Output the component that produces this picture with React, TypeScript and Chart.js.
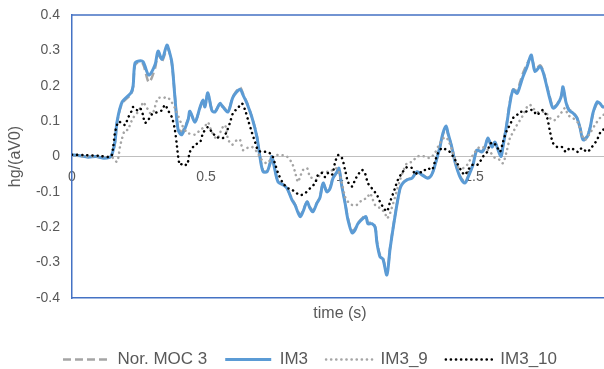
import React, { useEffect, useRef } from "react";
import { Chart, registerables } from "chart.js";

Chart.register(...registerables);

// ---- data ----
const timeA = [0, 0.03, 0.06, 0.09, 0.12, 0.145, 0.16, 0.168, 0.187, 0.22,
  0.228, 0.235, 0.25, 0.265, 0.287, 0.31, 0.321, 0.336, 0.354, 0.362,
  0.373, 0.384, 0.396, 0.41, 0.433, 0.44, 0.459, 0.478, 0.489, 0.496,
  0.507, 0.522, 0.534, 0.552, 0.563, 0.582, 0.601, 0.627, 0.638, 0.653,
  0.672, 0.69, 0.701, 0.713, 0.728, 0.739, 0.746, 0.757, 0.769, 0.787,
  0.802, 0.821, 0.832, 0.851, 0.862, 0.877, 0.888, 0.899, 0.914, 0.925,
  0.937, 0.951, 0.963, 0.974, 0.989, 0.996, 1.007, 1.019, 1.03, 1.045,
  1.056, 1.067, 1.086, 1.097, 1.104, 1.119, 1.131, 1.138, 1.149, 1.16,
  1.175, 1.187, 1.205, 1.224, 1.235, 1.25, 1.269, 1.287, 1.306, 1.325,
  1.336, 1.347, 1.362, 1.373, 1.384, 1.396, 1.403, 1.418, 1.429, 1.448,
  1.466, 1.478, 1.496, 1.511, 1.53, 1.541, 1.552, 1.567, 1.578, 1.59,
  1.601, 1.608, 1.623, 1.634, 1.646, 1.66, 1.672, 1.683, 1.698, 1.713,
  1.72, 1.728, 1.746, 1.757, 1.772, 1.784, 1.795, 1.81, 1.825, 1.832,
  1.843, 1.854, 1.869, 1.884, 1.896, 1.907, 1.922, 1.933, 1.944, 1.959,
  1.97, 1.981, 2.0];

const im3Values = [0.005, 0.002, -0.002, 0.0, -0.005, 0.0, 0.04, 0.098, 0.154, 0.18,
  0.2, 0.264, 0.27, 0.268, 0.23, 0.26, 0.298, 0.275, 0.315, 0.3,
  0.264, 0.168, 0.075, 0.062, 0.103, 0.128, 0.097, 0.14, 0.16, 0.14,
  0.18, 0.13, 0.126, 0.15, 0.14, 0.126, 0.168, 0.19, 0.174, 0.15,
  0.109, 0.055, 0.0, -0.043, -0.043, -0.019, 0.0, -0.038, -0.072, -0.08,
  -0.09, -0.123, -0.137, -0.17, -0.156, -0.128, -0.146, -0.156, -0.132, -0.117,
  -0.075, -0.1, -0.09, -0.061, -0.043, -0.033, -0.085, -0.132, -0.18, -0.216,
  -0.208, -0.19, -0.175, -0.17, -0.19, -0.19, -0.2, -0.245, -0.283, -0.29,
  -0.335, -0.26, -0.17, -0.09, -0.075, -0.066, -0.061, -0.043, -0.052, -0.061,
  -0.058, -0.043, -0.004, 0.027, 0.066, 0.086, 0.066, 0.024, -0.015, -0.058,
  -0.075, -0.058, -0.024, 0.018, 0.013, 0.027, 0.052, 0.027, 0.041, 0.018,
  0.0, 0.027, 0.095, 0.15, 0.188, 0.178, 0.2, 0.226, 0.254, 0.287,
  0.264, 0.24, 0.254, 0.24, 0.197, 0.16, 0.137, 0.146, 0.168, 0.197,
  0.154, 0.131, 0.123, 0.109, 0.08, 0.047, 0.055, 0.08, 0.123, 0.154,
  0.15, 0.14, 0.145];

const mocValues = [0.004, 0.002, -0.001, 0.0, -0.004, 0.0, 0.038, 0.095, 0.15, 0.176,
  0.196, 0.258, 0.266, 0.262, 0.21, 0.25, 0.29, 0.27, 0.305, 0.298,
  0.26, 0.17, 0.08, 0.07, 0.105, 0.125, 0.1, 0.138, 0.158, 0.142,
  0.178, 0.133, 0.128, 0.148, 0.142, 0.128, 0.17, 0.195, 0.178, 0.152,
  0.11, 0.058, 0.003, -0.04, -0.042, -0.02, -0.002, -0.036, -0.07, -0.078,
  -0.09, -0.12, -0.135, -0.165, -0.153, -0.128, -0.143, -0.153, -0.13, -0.115,
  -0.076, -0.098, -0.088, -0.06, -0.044, -0.035, -0.083, -0.13, -0.176, -0.21,
  -0.204, -0.188, -0.172, -0.168, -0.186, -0.188, -0.198, -0.24, -0.278, -0.286,
  -0.33, -0.258, -0.168, -0.09, -0.074, -0.065, -0.06, -0.044, -0.05, -0.06,
  -0.056, -0.042, -0.004, 0.028, 0.062, 0.08, 0.064, 0.025, -0.013, -0.055,
  -0.072, -0.056, -0.022, 0.02, 0.015, 0.028, 0.05, 0.03, 0.04, 0.02,
  0.004, 0.03, 0.098, 0.155, 0.19, 0.185, 0.21, 0.236, 0.262, 0.28,
  0.268, 0.245, 0.258, 0.244, 0.2, 0.165, 0.14, 0.148, 0.17, 0.19,
  0.155, 0.134, 0.125, 0.11, 0.08, 0.05, 0.058, 0.082, 0.12, 0.15,
  0.148, 0.14, 0.145];

const time9 = [0, 0.05, 0.1, 0.15, 0.168, 0.179, 0.187, 0.198, 0.209, 0.216,
  0.228, 0.243, 0.261, 0.265, 0.28, 0.291, 0.302, 0.321, 0.34, 0.354,
  0.366, 0.384, 0.41, 0.43, 0.459, 0.478, 0.496, 0.507, 0.522, 0.541,
  0.56, 0.571, 0.582, 0.597, 0.616, 0.627, 0.638, 0.653, 0.672, 0.69,
  0.709, 0.728, 0.746, 0.765, 0.784, 0.802, 0.821, 0.832, 0.843, 0.851,
  0.862, 0.877, 0.888, 0.899, 0.914, 0.925, 0.937, 0.963, 0.981, 0.993,
  1.007, 1.019, 1.03, 1.045, 1.063, 1.082, 1.101, 1.112, 1.131, 1.149,
  1.168, 1.175, 1.187, 1.224, 1.235, 1.25, 1.269, 1.287, 1.299, 1.317,
  1.336, 1.354, 1.373, 1.392, 1.403, 1.418, 1.429, 1.44, 1.459, 1.474,
  1.485, 1.504, 1.522, 1.541, 1.56, 1.578, 1.597, 1.608, 1.623, 1.634,
  1.646, 1.66, 1.672, 1.683, 1.698, 1.709, 1.72, 1.735, 1.754, 1.765,
  1.776, 1.791, 1.802, 1.813, 1.828, 1.84, 1.851, 1.869, 1.888, 1.903,
  1.914, 1.933, 1.951, 1.97, 1.981, 2.0];

const im3_9Values = [0.003, 0.0, 0.0, -0.003, -0.015, 0.027, 0.052, 0.075, 0.075, 0.089,
  0.109, 0.123, 0.146, 0.154, 0.137, 0.123, 0.123, 0.165, 0.165, 0.168,
  0.16, 0.137, 0.09, 0.068, 0.062, 0.075, 0.085, 0.097, 0.069, 0.05,
  0.08, 0.089, 0.05, 0.033, 0.047, 0.047, 0.018, 0.024, 0.027, 0.013,
  -0.01, -0.019, -0.004, 0.004, 0.004, 0.0, -0.019, -0.043, -0.072, -0.058,
  -0.038, -0.033, -0.058, -0.061, -0.066, -0.052, -0.043, -0.043, -0.033, -0.038,
  -0.075, -0.114, -0.128, -0.137, -0.137, -0.123, -0.117, -0.104, -0.137, -0.146,
  -0.16, -0.175, -0.16, -0.066, -0.043, -0.019, -0.015, 0.0, 0.001, 0.0,
  -0.004, 0.01, 0.038, 0.055, 0.047, 0.018, -0.01, -0.03, -0.033, -0.024,
  -0.01, 0.013, 0.027, 0.024, 0.013, -0.004, -0.01, -0.019, 0.018, 0.052,
  0.069, 0.089, 0.103, 0.117, 0.14, 0.146, 0.137, 0.126, 0.126, 0.126,
  0.117, 0.103, 0.103, 0.112, 0.126, 0.137, 0.117, 0.109, 0.095, 0.061,
  0.047, 0.066, 0.089, 0.109, 0.117, 0.12];

const time10 = [0, 0.05, 0.1, 0.145, 0.153, 0.16, 0.168, 0.172, 0.187, 0.198,
  0.209, 0.224, 0.228, 0.243, 0.254, 0.265, 0.272, 0.284, 0.299, 0.31,
  0.321, 0.336, 0.347, 0.358, 0.373, 0.384, 0.392, 0.396, 0.403, 0.414,
  0.429, 0.44, 0.459, 0.478, 0.489, 0.507, 0.522, 0.541, 0.563, 0.578,
  0.59, 0.601, 0.619, 0.634, 0.646, 0.657, 0.672, 0.683, 0.694, 0.709,
  0.728, 0.746, 0.757, 0.769, 0.787, 0.806, 0.813, 0.832, 0.851, 0.869,
  0.888, 0.907, 0.918, 0.933, 0.944, 0.955, 0.97, 0.981, 0.993, 1.007,
  1.019, 1.03, 1.045, 1.056, 1.067, 1.082, 1.093, 1.104, 1.119, 1.138,
  1.149, 1.16, 1.175, 1.187, 1.205, 1.216, 1.231, 1.25, 1.269, 1.28,
  1.291, 1.306, 1.317, 1.328, 1.343, 1.354, 1.366, 1.381, 1.399, 1.41,
  1.422, 1.437, 1.455, 1.466, 1.478, 1.493, 1.511, 1.522, 1.534, 1.549,
  1.56, 1.571, 1.586, 1.597, 1.608, 1.623, 1.634, 1.646, 1.66, 1.672,
  1.69, 1.709, 1.72, 1.735, 1.746, 1.757, 1.772, 1.784, 1.795, 1.81,
  1.828, 1.843, 1.858, 1.877, 1.888, 1.903, 1.922, 1.94, 1.959, 1.97,
  1.981, 2.0];

const im3_10Values = [0.005, 0.004, 0.002, 0.0, 0.024, 0.066, 0.089, 0.098, 0.095, 0.089,
  0.109, 0.131, 0.14, 0.131, 0.137, 0.117, 0.095, 0.103, 0.12, 0.123,
  0.126, 0.131, 0.146, 0.131, 0.11, 0.075, 0.027, 0.0, -0.024, -0.019,
  -0.024, 0.013, 0.033, 0.041, 0.066, 0.083, 0.069, 0.055, 0.052, 0.072,
  0.097, 0.123, 0.137, 0.15, 0.131, 0.103, 0.066, 0.041, 0.018, 0.013,
  0.013, 0.004, -0.019, -0.047, -0.075, -0.09, -0.09, -0.1, -0.109, -0.104,
  -0.09, -0.075, -0.052, -0.047, -0.058, -0.047, -0.052, -0.019, 0.004, -0.004,
  -0.038, -0.072, -0.085, -0.066, -0.052, -0.038, -0.047, -0.075, -0.09, -0.109,
  -0.128, -0.142, -0.155, -0.128, -0.09, -0.066, -0.047, -0.03, -0.033, -0.052,
  -0.043, -0.045, -0.038, -0.033, -0.038, -0.015, 0.01, 0.024, 0.018, 0.013,
  0.0, -0.019, -0.043, -0.052, -0.038, -0.024, -0.024, -0.015, 0.0, 0.013,
  0.035, 0.04, 0.027, 0.013, 0.041, 0.075, 0.089, 0.109, 0.117, 0.126,
  0.126, 0.131, 0.131, 0.117, 0.126, 0.131, 0.112, 0.069, 0.038, 0.027,
  0.027, 0.013, 0.024, 0.018, 0.013, 0.024, 0.013, 0.027, 0.047, 0.066,
  0.075, 0.085];

const seriesNames = ["Nor. MOC 3", "IM3", "IM3_9", "IM3_10"];
const yTickLabels = ["-0.4", "-0.3", "-0.2", "-0.1", "0", "0.1", "0.2", "0.3", "0.4"];
const xTickLabels = ["0", "0.5", "1", "1.5", "2"];

const pts = (t: number[], v: number[]) => t.map((x, i) => ({ x, y: v[i] }));

const TEXT = "#595959";
const AXIS_BLUE = "#4472C4";
const FONT = "'Liberation Sans', Arial, sans-serif";
const DASH = [8, 4];
const DOT = [0.1, 92 / 18 - 0.1];

const frame = {
  id: "frame",
  beforeDatasetsDraw(chart: any) {
    const { ctx, chartArea: a } = chart;
    ctx.save();
    ctx.strokeStyle = AXIS_BLUE;
    ctx.lineWidth = 1.5;
    ctx.beginPath();
    ctx.moveTo(a.left, a.top);
    ctx.lineTo(a.right, a.top);
    ctx.lineTo(a.right, a.bottom);
    ctx.stroke();
    ctx.restore();
  },
};

export default function App() {
  const ref = useRef<HTMLCanvasElement>(null);
  useEffect(() => {
    if (!ref.current) return;
    const chart = new Chart(ref.current, {
      type: "line",
      data: {
        datasets: [
          {
            label: seriesNames[0],
            data: pts(timeA, mocValues),
            borderColor: "#A5A5A5",
            borderWidth: 2.5,
            borderDash: DASH,
            order: 4,
          },
          {
            label: seriesNames[1],
            data: pts(timeA, im3Values),
            borderColor: "#5B9BD5",
            borderWidth: 3,
            order: 3,
          },
          {
            label: seriesNames[2],
            data: pts(time9, im3_9Values),
            borderColor: "#A5A5A5",
            borderWidth: 2.5,
            borderDash: DOT,
            borderCapStyle: "round",
            order: 2,
          },
          {
            label: seriesNames[3],
            data: pts(time10, im3_10Values),
            borderColor: "#000000",
            borderWidth: 2.5,
            borderDash: DOT,
            borderCapStyle: "round",
            order: 1,
          },
        ] as any,
      },
      options: {
        animation: false,
        responsive: false,
        parsing: false as any,
        elements: {
          point: { radius: 0 },
          line: { tension: 0.3, fill: false },
        },
        layout: { padding: { left: 0, top: 15, right: 0, bottom: 0 } },
        plugins: {
          tooltip: { enabled: false },
          legend: {
            position: "bottom",
            maxHeight: 36,
            labels: {
              boxWidth: 46,
              boxHeight: 0,
              padding: 18,
              color: TEXT,
              font: { size: 17, family: FONT },
              sort: (a: any, b: any) => a.datasetIndex - b.datasetIndex,
            },
          },
        },
        scales: {
          x: {
            type: "linear",
            position: "bottom",
            min: 0,
            max: 2,
            ticks: { display: false },
            grid: { display: false },
            border: { color: AXIS_BLUE, width: 1.5 },
            title: {
              display: true,
              text: "time (s)",
              color: TEXT,
              font: { size: 16, family: FONT },
              padding: { top: 2, bottom: 10 },
            },
            afterFit: (s: any) => {
              s.height = 35;
            },
          },
          x2: {
            type: "linear",
            position: { y: 0 } as any,
            min: 0,
            max: 2,
            ticks: {
              stepSize: 0.5,
              color: TEXT,
              padding: 12,
              maxRotation: 0,
              font: { size: 14, family: FONT },
              callback: (v: any) => xTickLabels[Math.round(Number(v) * 2)] ?? "",
            },
            grid: { display: false, drawTicks: false },
            border: { display: false },
            afterFit: (s: any) => {
              s.paddingRight = 12;
            },
          },
          y: {
            type: "linear",
            min: -0.4,
            max: 0.4,
            ticks: {
              stepSize: 0.1,
              color: TEXT,
              padding: 12,
              font: { size: 14, family: FONT },
              callback: (v: any) => yTickLabels[Math.round(Number(v) * 10) + 4] ?? "",
            },
            grid: {
              drawTicks: false,
              color: (c: any) =>
                c.tick && Math.abs(c.tick.value) < 1e-9 ? "#BFBFBF" : "rgba(0,0,0,0)",
              lineWidth: 1,
            },
            border: { color: AXIS_BLUE, width: 1.5 },
            title: {
              display: true,
              text: "hg/(aV0)",
              color: TEXT,
              font: { size: 16, family: FONT },
              padding: { top: 6, bottom: 0 },
            },
            afterFit: (s: any) => {
              s.width = 72;
              s.paddingTop = 0;
            },
          },
        },
      } as any,
      plugins: [frame],
    });
    return () => chart.destroy();
  }, []);

  return (
    <div
      style={{
        position: "fixed",
        left: 0,
        top: 0,
        width: 604,
        height: 369,
        overflow: "hidden",
        background: "#fff",
      }}
    >
      <canvas ref={ref} width={620} height={369} style={{ display: "block" }} />
    </div>
  );
}
